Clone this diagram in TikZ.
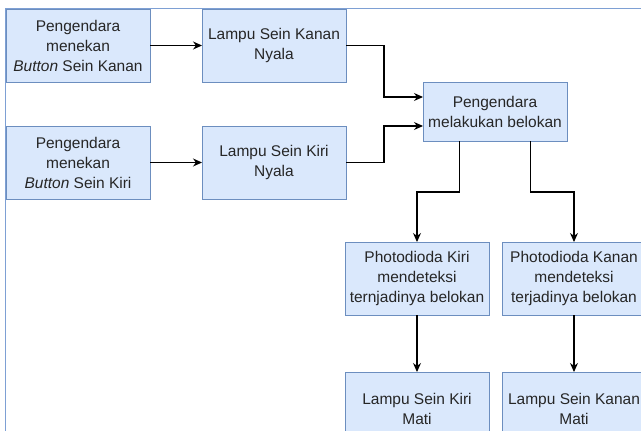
\documentclass[tikz,border=0pt]{standalone}
\usepackage{fontspec}
\setmainfont{Liberation Sans}
\usepackage{tikz}
\usetikzlibrary{arrows.meta, positioning}

\definecolor{boxfill}{HTML}{DAE8FC}
\definecolor{boxline}{HTML}{6C8EBF}
\definecolor{frameline}{HTML}{7EA0D4}

\begin{document}
\begin{tikzpicture}[
        x=1pt, y=1pt,
        % Horizontal and vertical gaps between the boxes
        node distance=44pt and 52pt,
        % Process steps: light blue fill, blue border, sharp corners
        box/.style = {rectangle, draw=boxline, fill=boxfill, line width=1pt,
                      minimum width=144pt, minimum height=73pt, align=center,
                      inner sep=2pt, outer sep=0pt, text=black!85,
                      font=\fontsize{15.5}{20}\selectfont},
        % Arrows: black with a solid head
        arrow/.style = {draw, line width=1.1pt, -{Stealth[length=9pt, width=8pt]}, color=black},
        % Outer container, cut off by the page
        frame/.style = {draw=frameline, line width=1.2pt}
    ]

    % --- Page size ---
    \useasboundingbox (0,0) rectangle (641,-431);
    \clip (0,0) rectangle (641,-431);

    % --- Row 1 & 2: Buttons and turn lights ---
    \node[box, anchor=north west] (kanan_btn) at (6,-9) {Pengendara\\menekan\\\textit{Button} Sein Kanan};
    \node[box, right=of kanan_btn] (kanan_on) {Lampu Sein Kanan\\Nyala};
    \node[box, below=of kanan_btn] (kiri_btn) {Pengendara\\menekan\\\textit{Button} Sein Kiri};
    \node[box, right=of kiri_btn] (kiri_on) {Lampu Sein Kiri\\Nyala};

    % --- Turning ---
    \node[box, minimum height=59pt, below right=73pt and 77pt of kanan_on.north east] (belok) {Pengendara\\melakukan belokan};

    % --- Photodiodes ---
    \node[box, below=101pt of belok, xshift=-78pt] (pd_kiri) {Photodioda Kiri\\mendeteksi\\ternjadinya belokan};
    \node[box, right=13pt of pd_kiri] (pd_kanan) {Photodioda Kanan\\mendeteksi\\terjadinya belokan};

    % --- Lights off ---
    \node[box, below=57pt of pd_kiri] (kiri_off) {Lampu Sein Kiri\\Mati};
    \node[box, below=57pt of pd_kanan] (kanan_off) {Lampu Sein Kanan\\Mati};

    % --- Edges (Arrows) ---
    \draw[arrow] (kanan_btn) -- (kanan_on);
    \draw[arrow] (kiri_btn) -- (kiri_on);
    \draw[arrow] (kanan_on.east) -- ++(38,0) |- ([yshift=14.5pt]belok.west);
    \draw[arrow] (kiri_on.east) -- ++(38,0) |- ([yshift=-14.5pt]belok.west);
    \draw[arrow] ([xshift=-35.5pt]belok.south) -- ++(0,-51) -| (pd_kiri.north);
    \draw[arrow] ([xshift=35.5pt]belok.south) -- ++(0,-51) -| (pd_kanan.north);
    \draw[arrow] (pd_kiri) -- (kiri_off);
    \draw[arrow] (pd_kanan) -- (kanan_off);

    % --- Outer frame ---
    \draw[frame] (5.5,-8.5) rectangle (700,-500);

    \end{tikzpicture}
\end{document}
